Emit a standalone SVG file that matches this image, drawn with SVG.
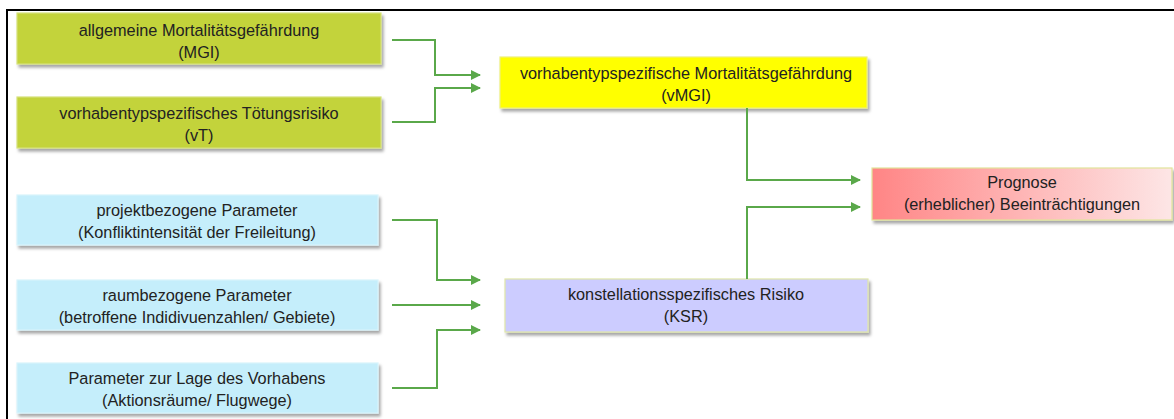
<svg xmlns="http://www.w3.org/2000/svg" width="1174" height="419" viewBox="0 0 1174 419">
<defs>
<style>
.t{font-family:"Liberation Sans",Arial,sans-serif;font-size:16.3px;fill:#222;text-anchor:middle}
.c{fill:none;stroke:#5aa84a;stroke-width:2}
.box{stroke-width:1.2}
</style>
<filter id="sh" x="-5%" y="-20%" width="110%" height="150%">
<feDropShadow dx="2" dy="3" stdDeviation="1.6" flood-color="#000" flood-opacity="0.35"/>
</filter>
<marker id="ar" viewBox="0 0 10 10" refX="9" refY="5" markerWidth="5" markerHeight="5" orient="auto" markerUnits="strokeWidth">
<path d="M0,0 L10,5 L0,10 z" fill="#5aa84a"/>
</marker>
<linearGradient id="pg" x1="0" y1="0" x2="1" y2="0">
<stop offset="0" stop-color="#ff8585"/>
<stop offset="1" stop-color="#fde6e6"/>
</linearGradient>
</defs>
<rect x="0" y="0" width="1174" height="419" fill="#fff"/>
<path d="M7,420 V10 H1174" fill="none" stroke="#000" stroke-width="2"/>

<g id="mgi">
<rect class="box" x="17" y="13" width="364" height="51" fill="#c3d33a" stroke="#d6e27a" filter="url(#sh)"/>
<text class="t" x="199" y="36">allgemeine Mortalitätsgefährdung</text>
<text class="t" x="199" y="58">(MGI)</text>
</g>
<g id="vt">
<rect class="box" x="17" y="97" width="364" height="51" fill="#c3d33a" stroke="#d6e27a" filter="url(#sh)"/>
<text class="t" x="199" y="119">vorhabentypspezifisches Tötungsrisiko</text>
<text class="t" x="199" y="141">(vT)</text>
</g>
<g id="vmgi">
<rect class="box" x="500" y="57" width="367" height="51" fill="#ffff00" stroke="#eef07a" filter="url(#sh)"/>
<text class="t" x="686" y="79">vorhabentypspezifische Mortalitätsgefährdung</text>
<text class="t" x="686" y="101">(vMGI)</text>
</g>
<g id="prognose">
<rect class="box" x="872" y="168" width="300" height="52" fill="url(#pg)" stroke="#e2e59a" filter="url(#sh)"/>
<text class="t" x="1022" y="188">Prognose</text>
<text class="t" x="1022" y="210">(erheblicher) Beeinträchtigungen</text>
</g>
<g id="projekt">
<rect class="box" x="17" y="195" width="361" height="50" fill="#c5eefb" stroke="#d8f3fc" filter="url(#sh)"/>
<text class="t" x="197" y="216">projektbezogene Parameter</text>
<text class="t" x="197" y="238">(Konfliktintensität der Freileitung)</text>
</g>
<g id="raum">
<rect class="box" x="17" y="280" width="361" height="50" fill="#c5eefb" stroke="#d8f3fc" filter="url(#sh)"/>
<text class="t" x="197" y="301">raumbezogene Parameter</text>
<text class="t" x="197" y="323">(betroffene Indidivuenzahlen/ Gebiete)</text>
</g>
<g id="lage">
<rect class="box" x="17" y="363" width="361" height="50" fill="#c5eefb" stroke="#d8f3fc" filter="url(#sh)"/>
<text class="t" x="197" y="384">Parameter zur Lage des Vorhabens</text>
<text class="t" x="197" y="406">(Aktionsräume/ Flugwege)</text>
</g>
<g id="ksr">
<rect class="box" x="505" y="279" width="363" height="53" fill="#ccccff" stroke="#dfe7a8" filter="url(#sh)"/>
<text class="t" x="686" y="300">konstellationsspezifisches Risiko</text>
<text class="t" x="686" y="322">(KSR)</text>
</g>

<g id="connectors">
<path class="c" d="M392,40 H435 V75 H480" marker-end="url(#ar)"/>
<path class="c" d="M392,122 H435 V88 H480" marker-end="url(#ar)"/>
<path class="c" d="M747,108 V180 H860" marker-end="url(#ar)"/>
<path class="c" d="M747,279 V207 H860" marker-end="url(#ar)"/>
<path class="c" d="M392,220 H437 V280 H480" marker-end="url(#ar)"/>
<path class="c" d="M392,305 H480" marker-end="url(#ar)"/>
<path class="c" d="M392,388 H437 V330 H480" marker-end="url(#ar)"/>
</g>
</svg>
